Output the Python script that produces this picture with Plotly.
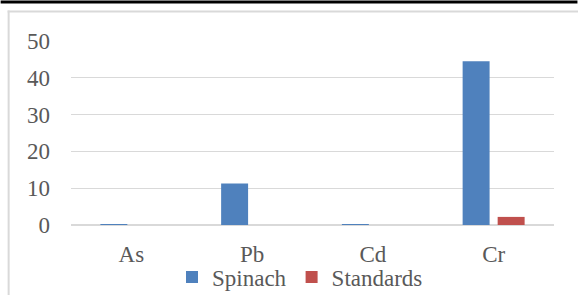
import plotly.graph_objects as go

categories = ["As", "Pb", "Cd", "Cr"]
spinach = [0.15, 11.3, 0.15, 44.5]
standards = [0, 0, 0, 2.2]
y_ticks = [0, 10, 20, 30, 40, 50]

W, H = 578, 295
L, R, T, B = 70.5, 23.5, 40.7, 69.7
PW, PH = W - L - R, H - T - B

def xp(px):
    return (px - L) / PW

def yp(py):
    return (H - B - py) / PH

FONT = "Times New Roman"
TXT = "#595959"
GRID = "#d9d9d9"

fig = go.Figure()
fig.add_trace(go.Bar(x=categories, y=spinach, name="Spinach",
                     marker=dict(color="#4f81bd", line=dict(width=0))))
fig.add_trace(go.Bar(x=categories, y=standards, name="Standards",
                     marker=dict(color="#c0504d", line=dict(width=0))))

shapes = [
    dict(type="rect", xref="paper", yref="paper", x0=xp(0), x1=xp(W), y0=yp(0), y1=yp(3),
         fillcolor="black", line=dict(width=0), layer="above"),
    dict(type="line", xref="paper", yref="paper", x0=xp(8), x1=xp(8), y0=yp(10), y1=yp(H + 5),
         line=dict(color=GRID, width=2)),
    dict(type="line", xref="paper", yref="paper", x0=xp(7), x1=xp(W + 5), y0=yp(11), y1=yp(11),
         line=dict(color=GRID, width=2)),
]

fig.update_layout(
    width=W, height=H,
    margin=dict(l=L, r=R, t=T, b=B, pad=0, autoexpand=False),
    paper_bgcolor="white", plot_bgcolor="white",
    barmode="group", bargap=0.42, bargroupgap=0.23,
    font=dict(family=FONT, size=23, color=TXT),
    showlegend=True,
    legend=dict(orientation="h", xanchor="center", yanchor="middle",
                xref="container", yref="container",
                x=300 / W, y=(H - 277) / H,
                font=dict(family=FONT, size=23, color=TXT),
                bgcolor="rgba(0,0,0,0)", itemwidth=30, tracegroupgap=0),
    xaxis=dict(showgrid=False, showline=False, zeroline=False, ticks="",
               ticklabelstandoff=13, tickfont=dict(family=FONT, size=23, color=TXT),
               fixedrange=True, automargin=False),
    yaxis=dict(range=[0, 50], tickvals=y_ticks, showgrid=True, gridcolor=GRID, gridwidth=1.3,
               zeroline=True, zerolinecolor=GRID, zerolinewidth=1.5, showline=False,
               ticks="", ticklabelstandoff=20, automargin=False,
               tickfont=dict(family=FONT, size=23, color=TXT), fixedrange=True),
    shapes=shapes,
)

fig.write_html("out.html", config={"displayModeBar": False},
               post_script="document.body.style.margin='0';document.body.style.overflow='hidden';")
